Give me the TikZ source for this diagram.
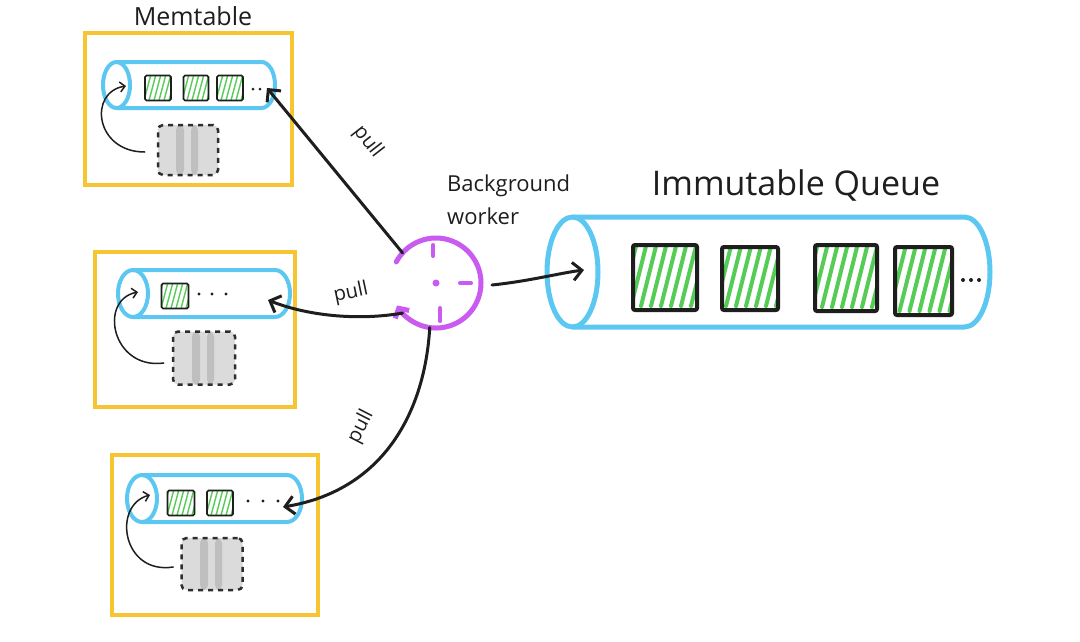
\documentclass[tikz,border=0pt]{standalone}
\usepackage{fontspec}
\setmainfont{Open Sans}
\usetikzlibrary{arrows.meta,calc}
\definecolor{ylw}{HTML}{F8C532}
\definecolor{sky}{HTML}{5CC8F2}
\definecolor{grn}{HTML}{55CC55}
\definecolor{prp}{HTML}{C95BF0}
\definecolor{ink}{HTML}{1E1E1E}
\begin{document}
\begin{tikzpicture}[x=1pt,y=-1pt,
  memframe/.style={draw=ylw,line width=4pt,inner sep=0pt,outer sep=0pt},
  pipeline/.style={draw=sky,line width=4pt,line join=round},
  slot/.style={inner sep=0pt,outer sep=0pt},
  cell/.style={draw=ink,line width=1.6pt,fill=white,rounded corners=1.5pt,inner sep=0pt,
    path picture={\foreach \i in {-34,-29,...,30}
      \draw[grn,line width=1.4pt] ([xshift=\i pt]path picture bounding box.south) -- ++(8,-30);}},
  bigcell/.style={draw=ink,line width=4pt,fill=white,rounded corners=2pt,inner sep=0pt,
    path picture={\foreach \i in {-64,-54,...,40}
      \draw[grn,line width=4pt,line cap=round] ([xshift=\i pt,yshift=4pt]path picture bounding box.south) -- ++(18,-72);}},
  ghost/.style={fill=gray!28,draw=gray!35!black,line width=2.5pt,dash pattern=on 5pt off 5pt,
    rounded corners=5pt,inner sep=0pt,
    path picture={
      \fill[gray!50] ([xshift=-12pt]path picture bounding box.south) rectangle ([xshift=-4pt]path picture bounding box.north);
      \fill[gray!50] ([xshift=3pt]path picture bounding box.south) rectangle ([xshift=10pt]path picture bounding box.north);}},
  pullarrow/.style={draw=ink,line width=3pt,line cap=round,line join=round,-{Straight Barb[length=9pt,width=18pt]}},
  loop/.style={draw=ink,line width=1.5pt,line cap=round,-{Straight Barb[length=5pt,width=10pt]}},
  lbl/.style={text=ink,font=\fontsize{20}{24}\selectfont,inner sep=0pt},
  dotm/.style={fill=ink}
]
\useasboundingbox (0,0) rectangle (1080,641);
\fill[white] (0,0) rectangle (1080,641);

% titles
\node[text=ink,font=\fontsize{25}{30}\selectfont] (mtt) at (193,16) {Memtable};
\node[text=ink,font=\fontsize{34}{40}\selectfont] (iqt) at (796,185) {Immutable Queue};
\node[text=ink,font=\fontsize{22}{33}\selectfont,align=left,anchor=west,inner sep=0pt] (bwl) at (447,200) {Background\\worker};

% memtable frames
\node[memframe,minimum width=207pt,minimum height=152pt] (mt1) at (188.5,109) {};
\node[memframe,minimum width=200pt,minimum height=155pt] (mt2) at (195,329.5) {};
\node[memframe,minimum width=206pt,minimum height=160pt] (mt3) at (215,535) {};

% memtable pipes (named slots, shapes drawn directly)
\node[slot,minimum width=172pt,minimum height=46pt] (q1) at (189,85) {};
\draw[pipeline] (116.5,85) ellipse [x radius=13.5,y radius=23];
\draw[pipeline] (116.5,62) -- (261.5,62) arc[start angle=-90,end angle=90,x radius=13.5,y radius=23] -- (116.5,108);

\node[slot,minimum width=172pt,minimum height=47pt] (q2) at (204,293.5) {};
\draw[pipeline] (133,293.5) ellipse [x radius=15,y radius=23.5];
\draw[pipeline] (133,270) -- (275,270) arc[start angle=-90,end angle=90,x radius=15,y radius=23.5] -- (133,317);

\node[slot,minimum width=175pt,minimum height=47pt] (q3) at (214.5,498.5) {};
\draw[pipeline] (142,498.5) ellipse [x radius=15,y radius=23.5];
\draw[pipeline] (142,475) -- (287,475) arc[start angle=-90,end angle=90,x radius=15,y radius=23.5] -- (142,522);

% cells
\node[cell,minimum width=26pt,minimum height=25pt] (c11) at (158,88) {};
\node[cell,minimum width=25pt,minimum height=25pt] (c12) at (196,88) {};
\node[cell,minimum width=26pt,minimum height=25pt] (c13) at (230,88) {};
\fill[dotm] (253,89) circle[radius=1.5];
\fill[dotm] (260,89) circle[radius=1.5];

\node[cell,minimum width=27pt,minimum height=25pt] (c21) at (175,296) {};
\fill[dotm] (199,294) circle[radius=1.6];
\fill[dotm] (212,294) circle[radius=1.6];
\fill[dotm] (226,294) circle[radius=1.6];

\node[cell,minimum width=27pt,minimum height=25pt] (c31) at (181,503) {};
\node[cell,minimum width=26pt,minimum height=25pt] (c32) at (220,503) {};
\fill[dotm] (248,501) circle[radius=1.6];
\fill[dotm] (263,501) circle[radius=1.6];
\fill[dotm] (278,501) circle[radius=1.6];

% ghost boxes
\node[ghost,minimum width=60pt,minimum height=50pt] (g1) at (188,150) {};
\node[ghost,minimum width=62pt,minimum height=53pt] (g2) at (204,358) {};
\node[ghost,minimum width=61pt,minimum height=52pt] (g3) at (212,564) {};

% loop arrows
\coordinate (e1) at (126,86);
\coordinate (e2) at (138,292);
\coordinate (e3) at (150,495);
\draw[loop] ([xshift=-12pt,yshift=-2pt]g1.west) .. controls (95,152) and (88,92) .. (e1);
\draw[loop] ([xshift=-8pt,yshift=-5pt]g2.west) .. controls (112,370) and (98,300) .. (e2);
\draw[loop] ([xshift=-7pt,yshift=-3pt]g3.west) .. controls (122,575) and (112,505) .. (e3);

% immutable queue
\node[slot,minimum width=443pt,minimum height=110pt] (iq) at (768.5,272) {};
\draw[pipeline,line width=5pt] (572.5,272) ellipse [x radius=25.5,y radius=55];
\draw[pipeline,line width=5pt] (572.5,217) -- (964.5,217) arc[start angle=-90,end angle=90,x radius=25.5,y radius=55] -- (572.5,327);
\node[bigcell,minimum width=64pt,minimum height=65pt] (b1) at (665,277.5) {};
\node[bigcell,minimum width=56pt,minimum height=63pt] (b2) at (750,278.5) {};
\node[bigcell,minimum width=62pt,minimum height=66pt] (b3) at (846,278) {};
\node[bigcell,minimum width=57pt,minimum height=68pt] (b4) at (923.5,281) {};
\fill[dotm] (963,280) circle[radius=2];
\fill[dotm] (971,280) circle[radius=2];
\fill[dotm] (979,280) circle[radius=2];

% background worker
\node[circle,minimum size=90pt,inner sep=0pt,outer sep=0pt] (bw) at (436,283) {};
\draw[prp,line width=5pt,line cap=round,-{Straight Barb[length=7pt,width=16pt]}]
  (bw.152) arc[start angle=-152,end angle=150,radius=45];
\draw[prp,line width=4pt,line cap=round] ($(bw.center)+(-3,-38)$) -- ($(bw.center)+(-3,-27)$);
\draw[prp,line width=4pt,line cap=round] ($(bw.center)+(24,0)$) -- ($(bw.center)+(35,0)$);
\draw[prp,line width=4pt,line cap=round] ($(bw.center)+(4,25)$) -- ($(bw.center)+(4,38)$);
\fill[prp] (bw.center) circle[radius=3.5];

% pull arrows
\coordinate (t1) at (267,88);
\coordinate (t2) at (268,300);
\coordinate (t3) at (283,507);
\draw[pullarrow] (bw.138) -- (t1);
\draw[pullarrow] (bw.222) .. controls (350,322) and (300,313) .. (t2);
\draw[pullarrow] (bw.262) .. controls (425,410) and (385,490) .. (t3);
\node[lbl,rotate=-52] (p1) at (368,142) {pull};
\node[lbl,rotate=12] (p2) at (351,293) {pull};
\node[lbl,rotate=63] (p3) at (361,427) {pull};

% to queue
\coordinate (qs) at (492,285);
\coordinate (qt) at (584,270);
\draw[pullarrow] (qs) .. controls (530,281) and (560,273) .. (qt);
\end{tikzpicture}
\end{document}
